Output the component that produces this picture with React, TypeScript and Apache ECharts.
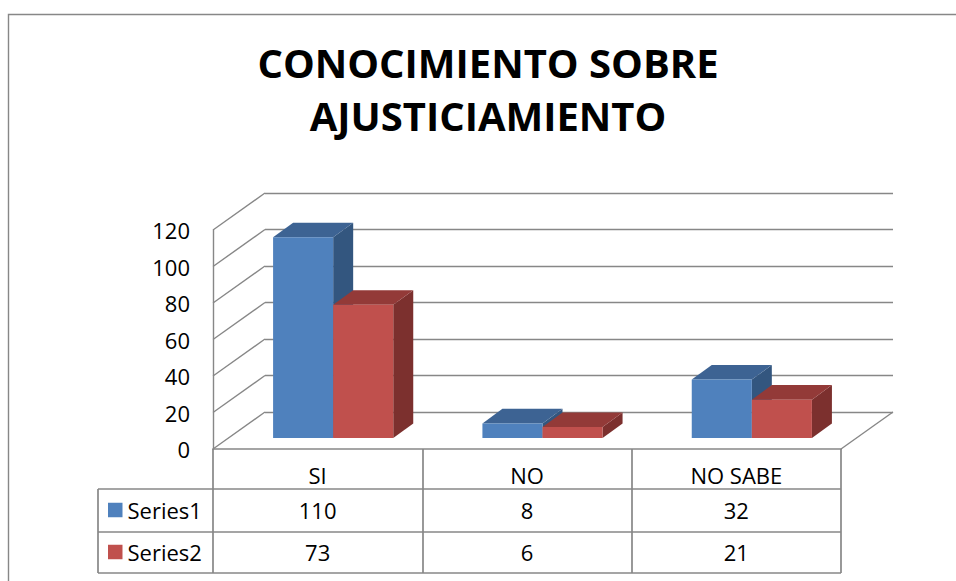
import React, { useEffect, useRef } from 'react';
import * as echarts from 'echarts';

// ---- data ----
const TITLE_LINES = ['CONOCIMIENTO SOBRE', 'AJUSTICIAMIENTO'];
const CATEGORIES = ['SI', 'NO', 'NO SABE'];
const SERIES_NAMES = ['Series1', 'Series2'];
const SERIES1 = [110, 8, 32];
const SERIES2 = [73, 6, 21];
const Y_TICKS = [0, 20, 40, 60, 80, 100, 120];
const Y_MIN = 0;
const Y_MAX = 120;
const Y_INTERVAL = 20;

// ---- style / layout ----
const FONT = "'Open Sans', 'Noto Sans', sans-serif";
const LINE = '#878787';
const COLORS = [
  { front: '#4F81BD', top: '#3D6393', side: '#33567F' },
  { front: '#C0504D', top: '#933A38', side: '#7C302E' },
];
const FRONT = { left: 213, top: 230, width: 628, height: 219 };
const WALL_DX = 52;
const WALL_DY = -37;
const BAR_OFF_DX = 15.5;
const BAR_OFF_DY = -11;
const BAR_DX = 20;
const BAR_DY = -14.6;
const BAR_FRAC = 0.287;
const ROW_H = [40, 43, 41];
const LEGEND_LEFT = 98;

export default function App() {
  const ref = useRef<HTMLDivElement>(null);

  useEffect(() => {
    if (!ref.current) return;
    const chart = echarts.init(ref.current, undefined, { renderer: 'svg' });

    const back = { left: FRONT.left + WALL_DX, top: FRONT.top + WALL_DY, width: FRONT.width, height: FRONT.height };
    const bars = { left: FRONT.left + BAR_OFF_DX, top: FRONT.top + BAR_OFF_DY, width: FRONT.width, height: FRONT.height };
    const tableTop = FRONT.top + FRONT.height;
    const rowYs = [tableTop];
    ROW_H.forEach((h, i) => rowYs.push(rowYs[i] + h));
    const tableRight = FRONT.left + FRONT.width;
    const tableH = ROW_H.reduce((a, b) => a + b, 0);

    const makeBar = (s: number) => (params: any, api: any) => {
      const cat = api.value(0);
      const v = api.value(1);
      const top = api.coord([cat, v]);
      const base = api.coord([cat, 0]);
      const bw = api.size([1, 0])[0] * BAR_FRAC;
      const x0 = top[0] - bw + s * bw;
      const x1 = x0 + bw;
      const yt = top[1];
      const yb = base[1];
      const c = COLORS[s];
      return {
        type: 'group',
        children: [
          { type: 'polygon', shape: { points: [[x1, yb], [x1 + BAR_DX, yb + BAR_DY], [x1 + BAR_DX, yt + BAR_DY], [x1, yt]] }, style: { fill: c.side } },
          { type: 'polygon', shape: { points: [[x0, yt], [x1, yt], [x1 + BAR_DX, yt + BAR_DY], [x0 + BAR_DX, yt + BAR_DY]] }, style: { fill: c.top } },
          { type: 'rect', shape: { x: x0, y: yt, width: bw, height: yb - yt }, style: { fill: c.front } },
        ],
      };
    };

    const wallRender = (params: any, api: any) => {
      const cs = params.coordSys;
      const v = api.value(1);
      const y = api.coord([0, v])[1];
      const st = { stroke: LINE, lineWidth: 1.4 };
      const children: any[] = [
        { type: 'line', shape: { x1: cs.x, y1: y, x2: cs.x + WALL_DX, y2: y + WALL_DY }, style: st },
      ];
      if (v === Y_MIN) {
        children.push({ type: 'line', shape: { x1: cs.x + cs.width, y1: y, x2: cs.x + cs.width + WALL_DX, y2: y + WALL_DY }, style: st });
      }
      return { type: 'group', children };
    };

    const txt = { fontFamily: FONT, fontSize: 22, color: '#000' };
    const tableLine = { stroke: LINE, lineWidth: 1.7 };

    const valueRowAxis = (vals: number[], margin: number) => ({
      type: 'category',
      gridIndex: 0,
      position: 'bottom',
      data: CATEGORIES,
      axisLine: { show: false },
      axisTick: { show: false },
      axisLabel: {
        interval: 0,
        margin,
        verticalAlign: 'middle',
        formatter: (_v: string, i: number) => String(vals[i]),
        ...txt,
      },
    });

    const legendFor = (name: string, row: number) => ({
      data: [name],
      orient: 'vertical',
      left: LEGEND_LEFT + 10,
      top: (rowYs[row] + rowYs[row + 1]) / 2 - 11.5,
      padding: 0,
      itemWidth: 14.5,
      itemHeight: 14.5,
      icon: 'rect',
      selectedMode: false,
      textStyle: { ...txt },
    });

    chart.setOption({
      animation: false,
      backgroundColor: '#ffffff',
      title: {
        text: TITLE_LINES.join('\n'),
        left: 488,
        top: 36,
        padding: 0,
        textAlign: 'center',
        textStyle: { fontFamily: FONT, fontWeight: 'bold', fontSize: 40, lineHeight: 53, color: '#000' },
      },
      legend: [legendFor(SERIES_NAMES[0], 1), legendFor(SERIES_NAMES[1], 2)],
      grid: [
        { ...FRONT, containLabel: false },
        { ...back, containLabel: false },
        { ...bars, containLabel: false },
      ],
      xAxis: [
        {
          type: 'category',
          gridIndex: 0,
          data: CATEGORIES,
          axisLine: { show: true, lineStyle: { color: LINE, width: 1.7 } },
          axisTick: { show: true, interval: 0, length: tableH, lineStyle: { color: LINE, width: 1.7 } },
          axisLabel: { interval: 0, margin: 26, verticalAlign: 'middle', ...txt },
        },
        valueRowAxis(SERIES1, 60.5),
        valueRowAxis(SERIES2, 102.5),
        { type: 'category', gridIndex: 1, data: CATEGORIES, show: false },
        { type: 'category', gridIndex: 2, data: CATEGORIES, show: false },
      ],
      yAxis: [
        {
          type: 'value',
          gridIndex: 0,
          min: Y_MIN,
          max: Y_MAX,
          interval: Y_INTERVAL,
          axisLine: { show: true, lineStyle: { color: LINE, width: 1.4 } },
          axisTick: { show: false },
          splitLine: { show: false },
          axisLabel: { margin: 23, verticalAlign: 'middle', padding: [4, 0, 0, 0], ...txt },
        },
        {
          type: 'value',
          gridIndex: 1,
          min: Y_MIN,
          max: Y_MAX,
          interval: Y_INTERVAL,
          axisLine: { show: false },
          axisTick: { show: false },
          axisLabel: { show: false },
          splitLine: { show: true, lineStyle: { color: LINE, width: 1.4 } },
        },
        { type: 'value', gridIndex: 2, min: Y_MIN, max: Y_MAX, interval: Y_INTERVAL, show: false, splitLine: { show: false } },
      ],
      series: [
        {
          type: 'custom',
          name: 'wall',
          xAxisIndex: 0,
          yAxisIndex: 0,
          renderItem: wallRender,
          data: Y_TICKS.map((v) => [0, v]),
          silent: true,
          z: 1,
        },
        {
          type: 'custom',
          name: SERIES_NAMES[0],
          xAxisIndex: 4,
          yAxisIndex: 2,
          renderItem: makeBar(0),
          itemStyle: { color: COLORS[0].front },
          data: SERIES1.map((v, i) => [i, v]),
          z: 3,
        },
        {
          type: 'custom',
          name: SERIES_NAMES[1],
          xAxisIndex: 4,
          yAxisIndex: 2,
          renderItem: makeBar(1),
          itemStyle: { color: COLORS[1].front },
          data: SERIES2.map((v, i) => [i, v]),
          z: 4,
        },
      ],
      graphic: [
        { type: 'rect', shape: { x: 8.5, y: 14.5, width: 1200, height: 800 }, style: { fill: 'none', stroke: LINE, lineWidth: 1.4 }, silent: true },
        ...rowYs.slice(1).map((y) => ({
          type: 'line',
          shape: { x1: LEGEND_LEFT, y1: y, x2: tableRight, y2: y },
          style: tableLine,
          silent: true,
        })),
        { type: 'line', shape: { x1: LEGEND_LEFT, y1: rowYs[1], x2: LEGEND_LEFT, y2: rowYs[3] }, style: tableLine, silent: true },
      ],
    });

    return () => chart.dispose();
  }, []);

  return <div ref={ref} style={{ position: 'absolute', left: 0, top: 0, width: 956, height: 581 }} />;
}
